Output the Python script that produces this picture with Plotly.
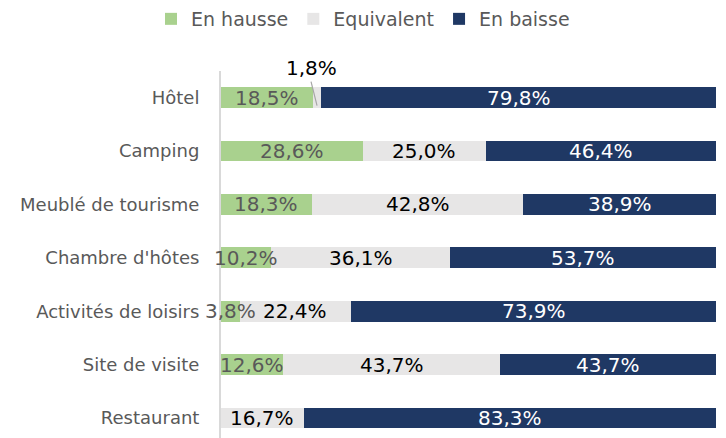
import plotly.graph_objects as go

categories = ["Hôtel", "Camping", "Meublé de tourisme", "Chambre d'hôtes",
              "Activités de loisirs", "Site de visite", "Restaurant"]
en_hausse = [18.5, 28.6, 18.3, 10.2, 3.8, 12.6, 0.0]
equivalent = [1.8, 25.0, 42.8, 36.1, 22.4, 43.7, 16.7]
en_baisse = [79.8, 46.4, 38.9, 53.7, 73.9, 43.7, 83.3]

FONT = "DejaVu Sans"
n = len(categories)
ypos = [n - 1 - i for i in range(n)]

series = [
    ("En hausse", en_hausse, "#a9d18e", "#595959"),
    ("Equivalent", equivalent, "#e7e6e6", "#000000"),
    ("En baisse", en_baisse, "#1f3864", "#ffffff"),
]

fig = go.Figure()
for name, vals, color, _ in series:
    fig.add_trace(go.Bar(
        x=vals, y=ypos, name=name, orientation="h",
        marker=dict(color=color, line=dict(width=0)),
        width=0.39, hoverinfo="x+name",
    ))

def fmt(v):
    return f"{v:.1f}%".replace(".", ",")

annotations = []
for i in range(n):
    start = 0.0
    for si, (name, vals, color, tcol) in enumerate(series):
        v = vals[i]
        mid = start + v / 2
        if v > 0:
            if si == 1 and categories[i] == "Hôtel":
                annotations.append(dict(
                    x=mid, y=ypos[i] - 0.15, xref="x", yref="y", text=fmt(v),
                    showarrow=True, arrowhead=0, arrowwidth=1.2, arrowcolor="#a6a6a6",
                    ax=-6, ay=-24,
                    font=dict(family=FONT, size=20, color="#000000"),
                    yanchor="bottom",
                ))
            else:
                annotations.append(dict(
                    x=mid, y=ypos[i], xref="x", yref="y", text=fmt(v),
                    showarrow=False, font=dict(family=FONT, size=20, color=tcol),
                    xanchor="center", yanchor="middle",
                ))
        start += v

fig.update_layout(
    width=726, height=438,
    margin=dict(l=221, r=10, t=71, b=0),
    barmode="stack", bargap=0,
    plot_bgcolor="white", paper_bgcolor="white",
    font=dict(family=FONT, color="#595959"),
    showlegend=True,
    legend=dict(orientation="h", x=0.5, xanchor="center", xref="container",
                y=1.0, yanchor="top", yref="container", traceorder="normal",
                font=dict(family=FONT, size=19, color="#595959"),
                itemwidth=30, tracegroupgap=0),
    annotations=annotations,
    xaxis=dict(range=[0, 100], showgrid=False, zeroline=False, showticklabels=False,
               fixedrange=True, automargin=False),
    yaxis=dict(range=[-0.375, n - 0.5], tickvals=ypos, ticktext=categories,
               showgrid=False, zeroline=False, showline=True, linecolor="#d9d9d9",
               linewidth=2, ticks="", ticklabelstandoff=16, automargin=False,
               tickfont=dict(family=FONT, size=18, color="#595959")),
)

fig.write_html("out.html", config={"displayModeBar": False},
               post_script="document.body.style.margin='0px';")
